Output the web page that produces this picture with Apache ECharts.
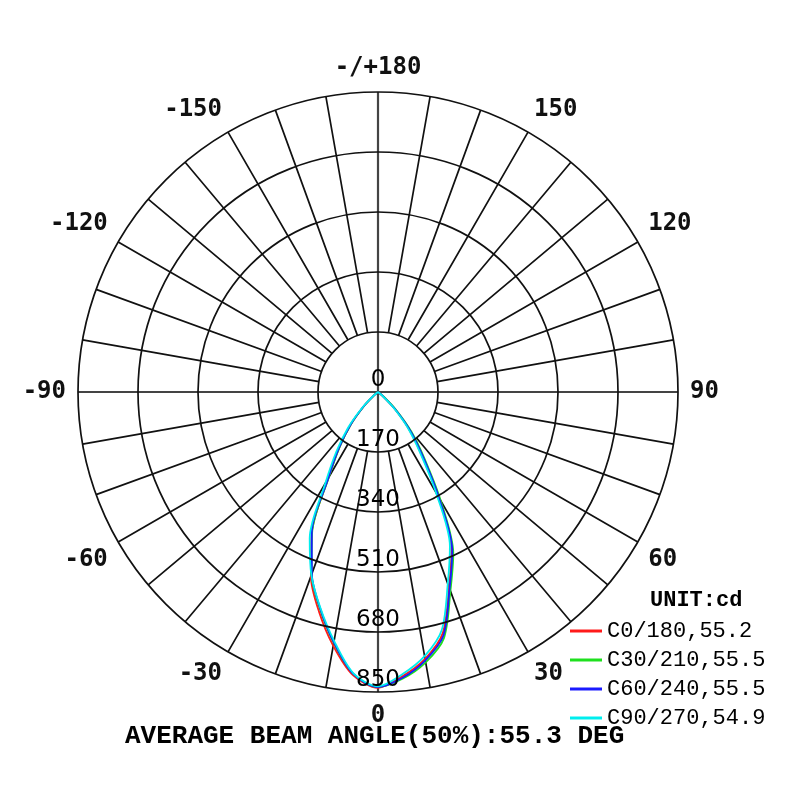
<!DOCTYPE html>
<html>
<head>
<meta charset="utf-8">
<script src="https://cdn.jsdelivr.net/npm/echarts@6/dist/echarts.min.js"></script>
<style>
  html, body { margin: 0; padding: 0; background: #fff; }
  #polarChart { width: 800px; height: 800px; }
</style>
</head>
<body>
<div id="polarChart"></div>
<script>
// 配光曲线 数据（cd），角度 -90 ~ 90
var angles = [-90, -85, -80, -75, -70, -65, -60, -55, -50, -45, -40, -35, -30, -25, -20, -15, -10, -5,
              0, 5, 10, 15, 20, 25, 30, 35, 40, 45, 50, 55, 60, 65, 70, 75, 80, 85, 90];
var c0_180  = [0, 0, 0, 0, 0, 0, 0, 0, 14, 56, 120, 190, 280, 445, 556, 645, 730, 806,
               838, 808, 768, 708, 588, 492, 338, 212, 134, 64, 16, 0, 0, 0, 0, 0, 0, 0, 0];
var c30_210 = [0, 0, 0, 0, 0, 0, 0, 0, 13, 55, 118, 188, 278, 442, 550, 636, 722, 802,
               836, 815, 778, 722, 600, 505, 355, 228, 148, 75, 22, 0, 0, 0, 0, 0, 0, 0, 0];
var c60_240 = [0, 0, 0, 0, 0, 0, 0, 0, 15, 58, 122, 192, 282, 444, 548, 634, 720, 802,
               836, 812, 772, 715, 593, 498, 345, 220, 140, 68, 18, 0, 0, 0, 0, 0, 0, 0, 0];
var c90_270 = [0, 0, 0, 0, 0, 0, 0, 0, 18, 64, 132, 205, 298, 458, 552, 632, 716, 800,
               834, 802, 760, 698, 578, 482, 328, 205, 128, 60, 14, 0, 0, 0, 0, 0, 0, 0, 0];

var seriesNames = ['C0/180,55.2', 'C30/210,55.5', 'C60/240,55.5', 'C90/270,54.9'];
var seriesColors = ['#ff1a1a', '#1ee01e', '#1a1aff', '#00eeee'];
var seriesData = [c0_180, c30_210, c60_240, c90_270];

var ringTicks = [0, 170, 340, 510, 680, 850];
var angleLabels = { '-180': '-/+180', '-150': '-150', '-120': '-120', '-90': '-90', '-60': '-60',
                    '-30': '-30', '0': '0', '30': '30', '60': '60', '90': '90', '120': '120', '150': '150' };

function toPairs(values) {
    var out = [];
    for (var i = 0; i < angles.length; i++) {
        out.push([values[i], angles[i]]);
    }
    return out;
}

var dom = document.getElementById('polarChart');
var myChart = echarts.init(dom);

var center = [378, 392];
var gridColor = '#111';
var series = [];
for (var k = 0; k < seriesData.length; k++) {
    series.push({
        name: seriesNames[k],
        type: 'line',
        coordinateSystem: 'polar',
        polarIndex: 2,
        showSymbol: false,
        smooth: 0.3,
        z: 3,
        lineStyle: { color: seriesColors[k], width: 1.8 },
        itemStyle: { color: seriesColors[k] },
        data: toPairs(seriesData[k])
    });
}

var option = {
    animation: false,
    backgroundColor: '#fff',
    title: [{
        text: 'AVERAGE BEAM ANGLE(50%):55.3 DEG',
        left: 125,
        top: 723,
        padding: 0,
        textStyle: { fontFamily: 'Liberation Mono', fontWeight: 'bold', fontSize: 26, color: '#000' }
    }, {
        text: 'UNIT:cd',
        left: 650,
        top: 589,
        padding: 0,
        textStyle: { fontFamily: 'Liberation Mono', fontWeight: 'bold', fontSize: 22, color: '#000' }
    }],
    legend: {
        orient: 'vertical',
        left: 570,
        top: 620,
        padding: 0,
        itemGap: 7,
        itemWidth: 32,
        itemHeight: 3,
        icon: 'rect',
        data: seriesNames,
        textStyle: { fontFamily: 'Liberation Mono', fontSize: 22, lineHeight: 22, color: '#000' }
    },
    polar: [
        { center: center, radius: [60, 300] },   // 10度 放射线 + 角度标签
        { center: center, radius: 300 },         // 同心圆 + 十字线 + 光强标签
        { center: center, radius: 300 }          // 数据
    ],
    angleAxis: [{
        polarIndex: 0,
        type: 'value',
        min: -180,
        max: 180,
        interval: 10,
        startAngle: 90,
        clockwise: false,
        axisLine: { show: false },
        axisTick: { show: false },
        axisLabel: {
            margin: 12,
            fontFamily: 'DejaVu Sans Mono',
            fontWeight: 'bold',
            fontSize: 24,
            color: '#111',
            formatter: function (v) {
                var s = angleLabels[String(v)];
                return s === undefined ? '' : s;
            }
        },
        splitLine: { show: true, lineStyle: { color: gridColor, width: 1.7 } }
    }, {
        polarIndex: 1,
        type: 'value',
        min: 0,
        max: 360,
        interval: 90,
        startAngle: 270,
        clockwise: false,
        axisLine: { show: false },
        axisTick: { show: false },
        axisLabel: { show: false },
        splitLine: { show: true, lineStyle: { color: '#444', width: 2.2 } }
    }, {
        polarIndex: 2,
        type: 'value',
        min: -180,
        max: 180,
        startAngle: 90,
        clockwise: false,
        axisLine: { show: false },
        axisTick: { show: false },
        axisLabel: { show: false },
        splitLine: { show: false }
    }],
    radiusAxis: [{
        polarIndex: 0,
        type: 'value',
        min: 0,
        max: 850,
        axisLine: { show: false },
        axisTick: { show: false },
        axisLabel: { show: false },
        splitLine: { show: false }
    }, {
        polarIndex: 1,
        type: 'value',
        min: ringTicks[0],
        max: ringTicks[ringTicks.length - 1],
        interval: 170,
        z: 5,
        axisLine: { show: false },
        axisTick: { show: false },
        axisLabel: {
            margin: 0,
            align: 'center',
            verticalAlign: 'bottom',
            showMinLabel: true,
            showMaxLabel: true,
            fontFamily: 'DejaVu Sans',
            fontSize: 23,
            color: '#000'
        },
        splitLine: { show: true, lineStyle: { color: gridColor, width: 1.7 } }
    }, {
        polarIndex: 2,
        type: 'value',
        min: 0,
        max: 850,
        axisLine: { show: false },
        axisTick: { show: false },
        axisLabel: { show: false },
        splitLine: { show: false }
    }],
    series: series
};

myChart.setOption(option);
</script>
</body>
</html>
